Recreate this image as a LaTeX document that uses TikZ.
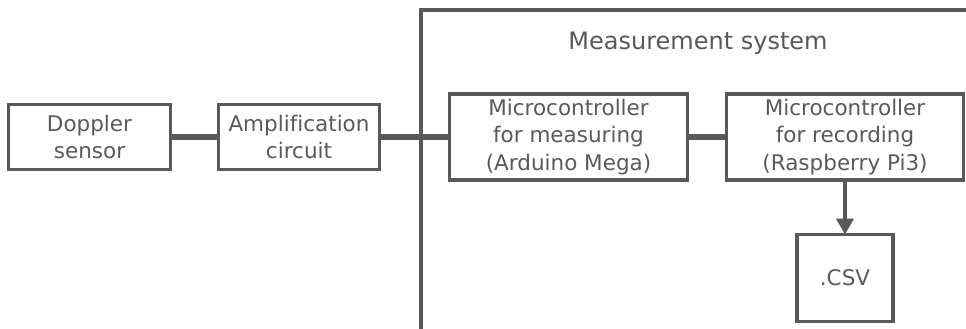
\documentclass[tikz,border=0pt]{standalone}
\usepackage{fontspec}
\setmainfont{DejaVu Sans}[Ligatures=NoCommon]
\usetikzlibrary{arrows.meta}
\definecolor{ink}{HTML}{595959}
\begin{document}
\begin{tikzpicture}[x=1pt,y=-1pt,
  blk/.style={draw=ink, line width=3.2pt, text=ink, align=center, inner sep=0pt, outer sep=0pt,
    font=\fontsize{21.5}{27.5}\selectfont},
  link/.style={draw=ink, line width=6pt},
  flow/.style={draw=ink, line width=4pt, -{Triangle[width=17pt,length=16pt]}}]
\useasboundingbox (0,0) rectangle (966,329);
% frame of the measurement system
\draw[ink, line width=3.6pt] (421,330) -- (421,10) -- (970,10);
\node[text=ink, font=\fontsize{24}{28}\selectfont] (title) at (698,43) {Measurement system};
\node[blk, minimum width=162pt, minimum height=65pt] (dop) at (89.5,137) {Doppler\\sensor};
\node[blk, minimum width=161pt, minimum height=65pt] (amp) at (299,137) {Amplification\\circuit};
\node[blk, minimum width=238pt, minimum height=86pt] (ard) at (568.5,137) {Microcontroller\\for measuring\\(Arduino Mega)};
\node[blk, minimum width=237pt, minimum height=86pt] (rpi) at (845,137) {Microcontroller\\for recording\\(Raspberry Pi3)};
\node[blk, minimum width=96pt, minimum height=87pt] (csv) at (845,278) {.CSV};
\draw[link] (dop.east) -- (amp.west);
\draw[link] (amp.east) -- (amp.east -| ard.west);
\draw[link] (ard.east) -- (rpi.west);
\draw[flow] (rpi.south) -- (csv.north);
\end{tikzpicture}
\end{document}
